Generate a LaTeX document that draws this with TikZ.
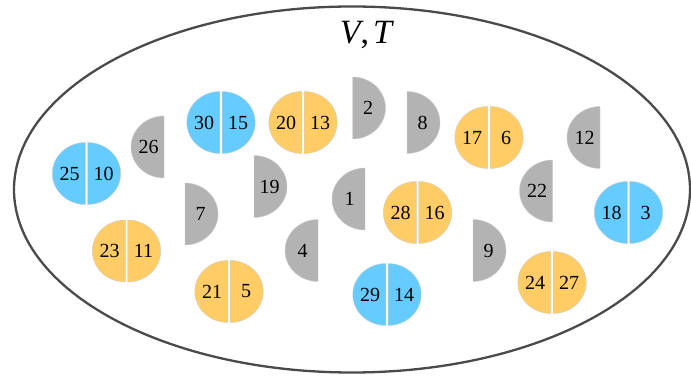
\documentclass[tikz,border=0pt]{standalone}
\usepackage{fontspec}
\setmainfont{Liberation Serif}
\usetikzlibrary{positioning}

\definecolor{pairblue}{HTML}{66CCFF}
\definecolor{pairorange}{HTML}{FFCC66}
\definecolor{lonegrey}{HTML}{B3B3B3}
\definecolor{rimgrey}{HTML}{4A4A4A}

% two half discs with a thin gap between them
\newcommand{\pairdisc}[5]{% name, centre, left label, right label, fill
  \coordinate (#1) at #2;
  \filldraw[halfedge, fill=#5] ([xshift=-1.2pt]#1) ++(0,31) arc[start angle=90, end angle=270, x radius=33, y radius=31] -- cycle;
  \filldraw[halfedge, fill=#5] ([xshift=1.2pt]#1) ++(0,31) arc[start angle=90, end angle=-90, x radius=33, y radius=31] -- cycle;
  \node[num] (#1-a) at ([xshift=-17pt]#1) {#3};
  \node[num] (#1-b) at ([xshift=17pt]#1) {#4};
}
% a single grey half disc, #4 = 1 bulges right, -1 bulges left
\newcommand{\halfdisc}[4]{% name, middle of flat side, label, side
  \coordinate (#1) at #2;
  \filldraw[halfedge, fill=lonegrey] (#1) ++(0,31) arc[start angle=90, end angle={90-180*(#4)}, x radius=33, y radius=31] -- cycle;
  \node[num] (#1-n) at ([xshift=#4*15.5pt]#1) {#3};
}

\begin{document}
\begin{tikzpicture}[x=1pt, y=1pt,
  num/.style={font=\fontsize{20}{24}\selectfont, inner sep=0pt},
  halfedge/.style={draw=black!20, line width=0.4pt},
  title/.style={font=\fontsize{34}{40}\selectfont, inner sep=0pt}]

  \useasboundingbox (0,0) rectangle (691,-379);

  \draw[rimgrey, line width=2.3pt] (352,-189.5) ellipse[x radius=338, y radius=183];
  \node[title] (vt) at (367,-35) {\textit{V},\kern4pt\textit{T}};

  % pairs
  \pairdisc{p25}{(86.5,-173.5)}{25}{10}{pairblue}
  \pairdisc{p30}{(221,-122.5)}{30}{15}{pairblue}
  \pairdisc{p20}{(303,-122.5)}{20}{13}{pairorange}
  \pairdisc{p17}{(489,-137.5)}{17}{6}{pairorange}
  \pairdisc{p28}{(417.5,-212.5)}{28}{16}{pairorange}
  \pairdisc{p18}{(628.5,-212.5)}{18}{3}{pairblue}
  \pairdisc{p23}{(126.5,-251)}{23}{11}{pairorange}
  \pairdisc{p21}{(229,-291.5)}{21}{5}{pairorange}
  \pairdisc{p29}{(387,-294.5)}{29}{14}{pairblue}
  \pairdisc{p24}{(552,-282.5)}{24}{27}{pairorange}

  % single halves
  \halfdisc{h2}{(352.5,-108)}{2}{1}
  \halfdisc{h8}{(407,-122.5)}{8}{1}
  \halfdisc{h19}{(254,-186.5)}{19}{1}
  \halfdisc{h7}{(185,-214)}{7}{1}
  \halfdisc{h9}{(473,-250.5)}{9}{1}
  \halfdisc{h26}{(164,-147)}{26}{-1}
  \halfdisc{h12}{(600,-137.5)}{12}{-1}
  \halfdisc{h1}{(365,-199)}{1}{-1}
  \halfdisc{h22}{(552.5,-191)}{22}{-1}
  \halfdisc{h4}{(318,-250.5)}{4}{-1}
\end{tikzpicture}
\end{document}
